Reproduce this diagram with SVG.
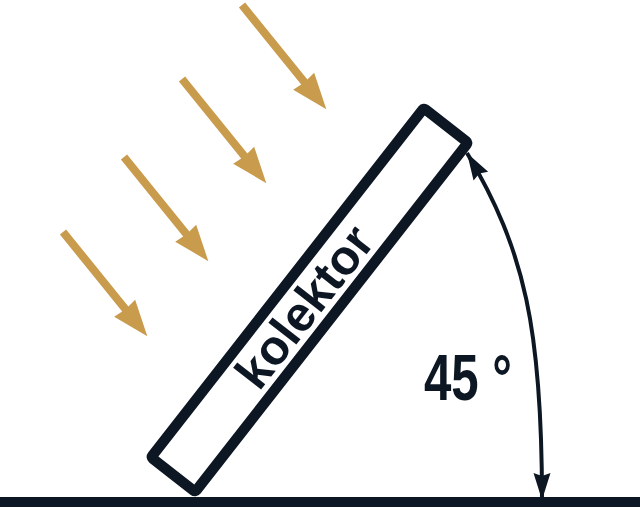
<svg xmlns="http://www.w3.org/2000/svg" width="640" height="512" viewBox="0 0 640 512">
<style>
.ray{fill:#C99B4C}
.dark{fill:#0C1723}
.frame{fill:none;stroke:#0C1723;stroke-width:10.5;stroke-linejoin:round}
.arc{fill:none;stroke:#0C1723;stroke-width:4}
.lbl{font-family:"Liberation Sans",Arial,sans-serif;font-weight:bold;fill:#0C1723}
</style>
<defs>
<path id="ray" d="M0,-4 L99,-4 L98,-13.5 L134,0 L98,13.5 L99,4 L0,4 Z"/>
<marker id="ah" markerUnits="userSpaceOnUse" markerWidth="32" markerHeight="22" viewBox="-30 -11 32 22" refX="0" refY="0" orient="auto-start-reverse">
<path d="M0,0 L-27,-8.5 L-24,0 L-27,8.5 Z" fill="#0C1723"/>
</marker>
</defs>
<rect width="640" height="512" fill="#ffffff"/>
<g id="sun-rays">
<use href="#ray" class="ray" transform="translate(242,5) rotate(51)"/>
<use href="#ray" class="ray" transform="translate(182,79) rotate(51)"/>
<use href="#ray" class="ray" transform="translate(124,157) rotate(51)"/>
<use href="#ray" class="ray" transform="translate(63,232) rotate(51)"/>
</g>
<g id="ground">
<rect class="dark" x="0" y="497" width="640" height="10"/>
</g>
<g id="collector" transform="translate(309.5,300) rotate(-52)">
<rect class="frame" x="-221.5" y="-28" width="443" height="56" rx="2"/>
<text class="lbl" x="-8.5" y="17" font-size="49" text-anchor="middle">kolektor</text>
</g>
<g id="connectors">
<path class="arc" d="M467,153 C525,250 542,330 542,500" marker-start="url(#ah)" marker-end="url(#ah)"/>
</g>
<g id="angle-label">
<text class="lbl" x="424" y="400" font-size="64" textLength="88" lengthAdjust="spacingAndGlyphs">45 °</text>
</g>
</svg>
